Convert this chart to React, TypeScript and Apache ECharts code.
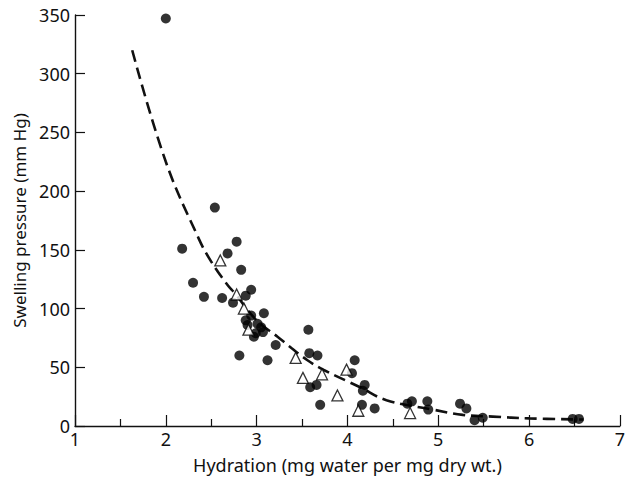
import React, { useEffect, useRef } from "react";
import * as echarts from "echarts";

const filledX = [2.0, 2.54, 2.18, 2.78, 2.68, 2.83, 2.3, 2.42, 2.62, 2.74, 2.94, 2.88, 3.08, 2.94, 2.88, 2.9, 3.01, 3.05, 2.99, 2.97, 3.07, 3.21, 2.81, 3.12, 3.57, 3.58, 3.67, 3.59, 3.66, 3.7, 4.08, 4.05, 4.19, 4.17, 4.16, 4.3, 4.66, 4.71, 4.88, 4.89, 5.24, 5.31, 5.4, 5.49, 6.48, 6.55];
const filledY = [347, 186, 151, 157, 147, 133, 122, 110, 109, 105, 116, 111, 96, 94, 90, 86, 87, 84, 79, 76, 80, 69, 60, 56, 82, 62, 60, 33, 35, 18, 56, 45, 35, 30, 18, 15, 19, 21, 21, 14, 19, 15, 5, 7, 6, 6];

const triX = [2.6, 2.78, 2.86, 2.91, 3.43, 3.51, 3.72, 3.89, 3.99, 4.12, 4.69];
const triY = [141, 112, 100, 82, 58, 41, 44, 26, 48, 13, 11];

const curveX = [1.63, 2.0, 2.36, 2.5, 2.68, 2.76, 3.0, 3.23, 3.39, 3.56, 3.74, 4.14, 4.43, 4.94, 5.27, 5.6, 6.0, 6.6];
const curveY = [320, 225, 160, 140, 120, 113, 90, 76, 66, 56, 47.7, 33, 22, 14, 9.5, 8, 6.5, 5.5];

const xTicks = [1, 2, 3, 4, 5, 6, 7];
const yTicks = [0, 50, 100, 150, 200, 250, 300, 350];

const xName = "Hydration (mg water per mg dry wt.)";
const yName = "Swelling pressure (mm Hg)";

const FONT = "Noto Sans";

export default function App() {
  const ref = useRef<HTMLDivElement>(null);
  useEffect(() => {
    document.body.style.margin = "0";
    const chart = echarts.init(ref.current!, null, { renderer: "svg" });
    const zip = (a: number[], b: number[]) => a.map((v, i) => [v, b[i]]);
    chart.setOption({
      animation: false,
      backgroundColor: "#fff",
      grid: { left: 75, right: 3, top: 15, bottom: 63, containLabel: false },
      xAxis: {
        type: "value",
        min: xTicks[0],
        max: xTicks[xTicks.length - 1],
        interval: 1,
        name: xName,
        nameLocation: "middle",
        nameGap: 30,
        nameTextStyle: { fontFamily: FONT, fontSize: 18, color: "#111" },
        axisLine: { show: true, lineStyle: { color: "#111", width: 1.4 } },
        axisTick: { show: true, inside: true, length: 11, lineStyle: { color: "#111", width: 1.2 } },
        minorTick: { show: true, splitNumber: 2, length: 7, lineStyle: { color: "#111", width: 1.2 } },
        axisLabel: { fontFamily: FONT, fontSize: 18, color: "#111", margin: 4 },
        splitLine: { show: false },
      },
      yAxis: {
        type: "value",
        min: yTicks[0],
        max: yTicks[yTicks.length - 1],
        interval: 50,
        name: yName,
        nameLocation: "middle",
        nameGap: 46,
        nameRotate: 90,
        nameTextStyle: { fontFamily: FONT, fontSize: 17, color: "#111" },
        axisLine: { show: true, lineStyle: { color: "#111", width: 1.4 } },
        axisTick: { show: true, inside: true, length: 10, lineStyle: { color: "#111", width: 1.2 } },
        axisLabel: { fontFamily: FONT, fontSize: 18, color: "#111", margin: 5 },
        splitLine: { show: false },
      },
      series: [
        {
          type: "line",
          data: zip(curveX, curveY),
          smooth: 0.4,
          symbol: "none",
          lineStyle: { color: "#111", width: 2.6, type: [12, 6] },
          z: 1,
        },
        {
          type: "scatter",
          data: zip(filledX, filledY),
          symbol: "circle",
          symbolSize: 10,
          itemStyle: { color: "#000" },
          z: 2,
        },
        {
          type: "scatter",
          data: zip(triX, triY),
          symbol: "triangle",
          symbolSize: 11,
          itemStyle: { color: "#fff", borderColor: "#000", borderWidth: 1.3 },
          z: 3,
        },
      ],
    });
    return () => chart.dispose();
  }, []);
  return <div ref={ref} style={{ width: 628, height: 489 }} />;
}
